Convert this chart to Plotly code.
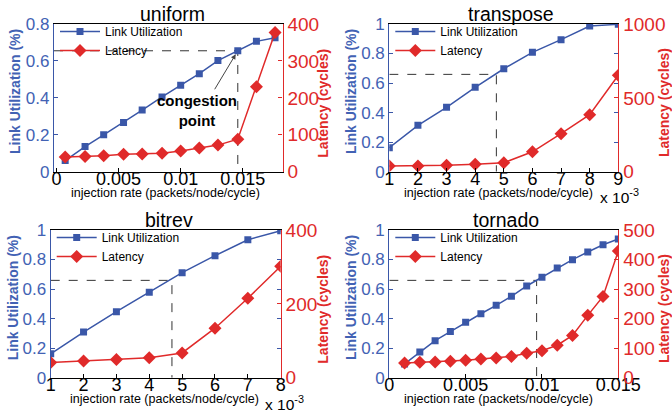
import plotly.graph_objects as go

# ---------------- data ----------------
panel_titles = ["uniform", "transpose", "bitrev", "tornado"]

uniform_rate = [0.0007, 0.0023, 0.0038, 0.0054, 0.0069, 0.0085, 0.0100, 0.0115, 0.0130, 0.0146, 0.0161, 0.0176]
uniform_util = [0.060, 0.136, 0.200, 0.267, 0.334, 0.405, 0.468, 0.531, 0.602, 0.655, 0.706, 0.726]
uniform_lat = [40, 41, 43.5, 47, 48, 50, 56, 64.5, 72, 88, 230, 377]

transpose_rate = [1, 2, 3, 4, 5, 6, 7, 8, 9]  # x 10^-3
transpose_util = [0.162, 0.314, 0.436, 0.571, 0.697, 0.808, 0.894, 0.986, 0.998]
transpose_lat = [39, 39, 43, 50, 61, 135, 257, 386, 653]

bitrev_rate = [1, 2, 3, 4, 5, 6, 7, 8]  # x 10^-3
bitrev_util = [0.162, 0.309, 0.447, 0.578, 0.711, 0.826, 0.934, 0.995]
bitrev_lat = [41, 45, 49, 54, 67, 134, 215, 302]

tornado_rate = [0.001, 0.002, 0.003, 0.004, 0.005, 0.006, 0.007, 0.008, 0.009, 0.010,
                0.011, 0.012, 0.013, 0.014, 0.015]
tornado_util = [0.093, 0.174, 0.251, 0.312, 0.375, 0.433, 0.490, 0.551, 0.621, 0.680,
                0.743, 0.799, 0.851, 0.900, 0.939]
tornado_lat = [50, 52, 53, 55.5, 59, 63, 67, 72, 83, 91, 110, 143, 211, 275, 429]

# congestion point (dashed guide lines)
congestion_rate = [0.0146, 4.74, 4.69, 0.00965]
congestion_util = [0.655, 0.659, 0.659, 0.659]

x_tick_vals = [[0, 0.005, 0.01, 0.015], [1, 2, 3, 4, 5, 6, 7, 8, 9],
               [1, 2, 3, 4, 5, 6, 7, 8], [0, 0.005, 0.01, 0.015]]
x_tick_text = [["0", "0.005", "0.01", "0.015"], [str(v) for v in range(1, 10)],
               [str(v) for v in range(1, 9)], ["0", "0.005", "0.01", "0.015"]]
util_tick_vals = [[0, 0.2, 0.4, 0.6, 0.8], [0, 0.2, 0.4, 0.6, 0.8, 1.0],
                  [0, 0.2, 0.4, 0.6, 0.8, 1.0], [0, 0.2, 0.4, 0.6, 0.8, 1.0]]
util_tick_text = [["0", "0.2", "0.4", "0.6", "0.8"], ["0", "0.2", "0.4", "0.6", "0.8", "1"],
                  ["0", "0.2", "0.4", "0.6", "0.8", "1"], ["0", "0.2", "0.4", "0.6", "0.8", "1"]]
lat_tick_vals = [[0, 100, 200, 300, 400], [0, 500, 1000], [0, 200, 400], [0, 100, 200, 300, 400, 500]]

rates = [uniform_rate, transpose_rate, bitrev_rate, tornado_rate]
utils = [uniform_util, transpose_util, bitrev_util, tornado_util]
lats = [uniform_lat, transpose_lat, bitrev_lat, tornado_lat]

# ---------------- layout specs ----------------
W, H = 672, 412
BLUE = "#3A57A8"
BLUE_TXT = "#4262B4"
RED = "#E02A2A"
FONT = "Liberation Sans, Arial, sans-serif"

def px(xp):
    return xp / W

def py(yp):
    return 1 - yp / H

plot_box = [  # left, right, top, bottom in pixels
    (54, 282.5, 24, 171.7),
    (389.3, 618.3, 24, 171.7),
    (50.7, 280.7, 230, 377.7),
    (389.3, 618.3, 230, 377.7),
]
x_ranges = [[-0.0002, 0.0182], [1, 9], [1, 8], [0, 0.015]]
util_ranges = [[0, 0.8], [0, 1], [0, 1], [0, 1]]
lat_ranges = [[0, 400], [0, 1000], [0, 400], [0, 500]]

fig = go.Figure()
layout = dict(width=W, height=H, margin=dict(l=0, r=0, t=0, b=0, pad=0, autoexpand=False),
              paper_bgcolor="white", plot_bgcolor="white", autosize=False,
              font=dict(family=FONT, color="black"))
annotations = []

for i in range(4):
    n = i + 1
    xa = "x" if n == 1 else f"x{n}"
    ya = "y" if n == 1 else f"y{2 * n - 1}"
    yb = f"y{2 * n}"
    leg = "legend" if n == 1 else f"legend{n}"
    l, r, t, b = plot_box[i]

    cx, cu = congestion_rate[i], congestion_util[i]
    fig.add_trace(go.Scatter(x=[x_ranges[i][0], cx, cx], y=[cu, cu, 0], mode="lines",
                             line=dict(color="#333333", width=1, dash="dash"),
                             xaxis=xa, yaxis=ya, showlegend=False, hoverinfo="skip"))
    fig.add_trace(go.Scatter(x=rates[i], y=utils[i], mode="lines+markers", name="Link Utilization",
                             line=dict(color=BLUE, width=1.5),
                             marker=dict(symbol="square", size=7, color=BLUE),
                             xaxis=xa, yaxis=ya, legend=leg))
    fig.add_trace(go.Scatter(x=rates[i], y=lats[i], mode="lines+markers", name="Latency",
                             line=dict(color=RED, width=1.5),
                             marker=dict(symbol="diamond", size=10, color=RED),
                             xaxis=xa, yaxis=yb, legend=leg))

    xkey = "xaxis" if n == 1 else f"xaxis{n}"
    ykey = "yaxis" if n == 1 else f"yaxis{2 * n - 1}"
    ykey2 = f"yaxis{2 * n}"
    layout[xkey] = dict(domain=[px(l), px(r)], anchor=ya, range=x_ranges[i],
                        tickvals=x_tick_vals[i], ticktext=x_tick_text[i],
                        ticks="inside", ticklen=4, tickcolor="black",
                        showline=True, linecolor="black", linewidth=1.2, mirror=True,
                        showgrid=False, zeroline=False, automargin=False,
                        ticklabelstandoff=-9,
                        tickfont=dict(size=18, color="black", family=FONT))
    layout[ykey] = dict(domain=[py(b), py(t)], anchor=xa, range=util_ranges[i],
                        tickvals=util_tick_vals[i], ticktext=util_tick_text[i],
                        ticks="inside", ticklen=4, tickcolor=BLUE,
                        showline=True, linecolor=BLUE, linewidth=1.2, mirror="ticks",
                        showgrid=False, zeroline=False, automargin=False,
                        tickfont=dict(size=17, color=BLUE_TXT, family=FONT))
    layout[ykey2] = dict(overlaying=ya, side="right", anchor=xa, range=lat_ranges[i],
                         tickvals=lat_tick_vals[i],
                         ticks="inside", ticklen=4, tickcolor=RED,
                         showline=True, linecolor=RED, linewidth=1.2,
                         showgrid=False, zeroline=False, automargin=False,
                         tickfont=dict(size=19, color=RED, family=FONT))
    layout[leg] = dict(x=px(l + 1), y=py(t - 7), xanchor="left", yanchor="top",
                       bgcolor="rgba(0,0,0,0)", borderwidth=0, itemwidth=40,
                       font=dict(size=12, color="black", family=FONT),
                       tracegroupgap=0)

title_pos = [(172.5, 13.5), (510.7, 13.5), (169, 220), (505.5, 220)]
xtitle_pos = [(165.8, 193.3), (498.7, 193.3), (164, 398.7), (498.5, 399)]
ltitle_pos = [(15, 92), (351, 92), (13.3, 298), (351, 298)]
rtitle_pos = [(322.7, 103), (664, 103), (322.7, 309), (664, 309)]
exp_pos = {1: (598, 196.5), 2: (263, 402.5)}


def label(text, x, y, size, color, angle=0, xanchor="center"):
    return dict(text=text, x=px(x), y=py(y), xref="paper", yref="paper", showarrow=False,
                xanchor=xanchor, yanchor="middle", textangle=angle,
                font=dict(size=size, color=color, family=FONT))


for i in range(4):
    annotations.append(label(panel_titles[i], *title_pos[i], 19.5, "black"))
    annotations.append(label("injection rate (packets/node/cycle)", *xtitle_pos[i], 12.5, "black"))
    annotations.append(label("<b>Link Utilization (%)</b>", *ltitle_pos[i], 14, BLUE_TXT, angle=-90))
    annotations.append(label("<b>Latency (cycles)</b>", *rtitle_pos[i], 14, RED, angle=-90))

for k, (ex, ey) in exp_pos.items():
    annotations.append(label("x 10<sup>-3</sup>", ex, ey, 15.5, "black", xanchor="left"))

# congestion point arrow + label (uniform panel)
annotations.append(dict(text="", x=congestion_rate[0], y=congestion_util[0], xref="x", yref="y",
                        showarrow=True, ax=-24, ay=40, arrowhead=2, arrowsize=1, arrowwidth=1,
                        arrowcolor="#444444", standoff=4))
annotations.append(label("<b>congestion<br>point</b>", 196.7, 110.5, 15, "black"))

layout["annotations"] = annotations
fig.update_layout(**layout)
fig.write_html("out.html", config={"displayModeBar": False},
               post_script="document.body.style.margin='0px';")
